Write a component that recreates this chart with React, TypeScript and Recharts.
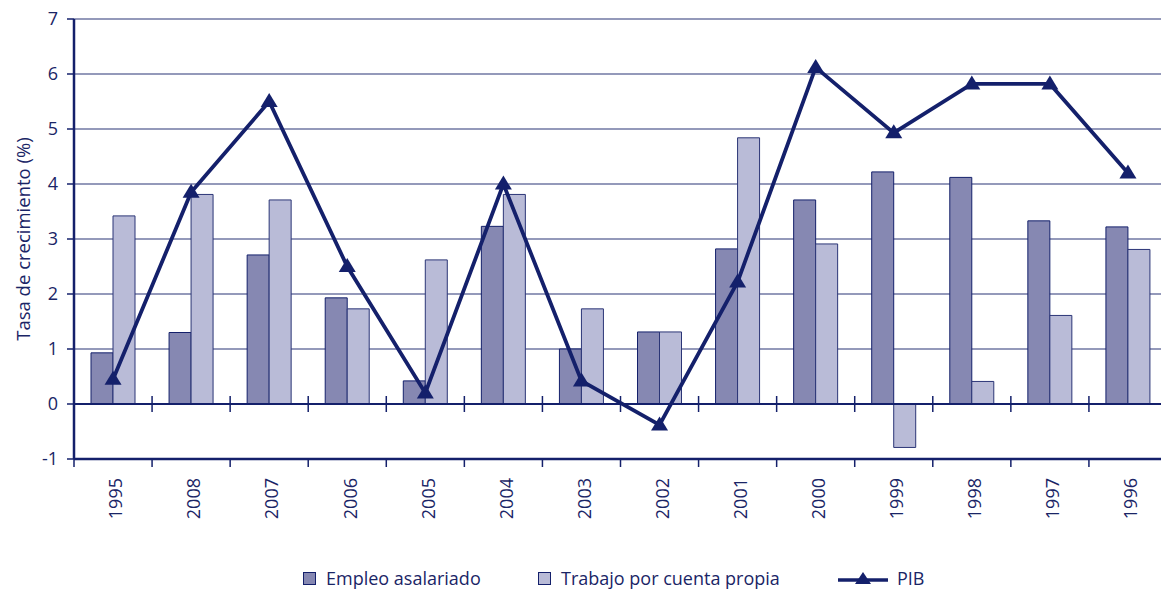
import React from "react";
import {
  ComposedChart,
  Bar,
  Line,
  XAxis,
  YAxis,
  CartesianGrid,
  ReferenceLine,
  Legend,
} from "recharts";

const years = ["1995", "2008", "2007", "2006", "2005", "2004", "2003", "2002", "2001", "2000", "1999", "1998", "1997", "1996"];
const empleoAsalariado = [0.93, 1.3, 2.71, 1.93, 0.42, 3.23, 1.0, 1.31, 2.82, 3.71, 4.22, 4.12, 3.33, 3.22];
const cuentaPropia = [3.42, 3.81, 3.71, 1.73, 2.62, 3.81, 1.73, 1.31, 4.84, 2.91, -0.79, 0.41, 1.61, 2.81];
const pib = [0.45, 3.85, 5.5, 2.5, 0.2, 4.0, 0.42, -0.38, 2.22, 6.12, 4.93, 5.82, 5.82, 4.2];
const yTicks = [-1, 0, 1, 2, 3, 4, 5, 6, 7];

const data = years.map((year, i) => ({
  year,
  empleo: empleoAsalariado[i],
  propia: cuentaPropia[i],
  pib: pib[i],
}));

const NAVY = "#14206b";
const TEXT = "#1a2566";
const DARK = "#8688b2";
const LIGHT = "#b9bbd7";
const FONT = "'Open Sans', sans-serif";

// zero line with tick marks at category boundaries, crossing the line
const ZeroLine = (props: any) => {
  const { x1, x2, y1 } = props;
  const step = (x2 - x1) / years.length;
  return (
    <g>
      <line x1={x1} x2={x2} y1={y1} y2={y1} stroke={NAVY} strokeWidth={2} />
      {years.slice(1).map((_, k) => (
        <line key={k} x1={x1 + (k + 1) * step} x2={x1 + (k + 1) * step} y1={y1 - 8} y2={y1 + 8} stroke={NAVY} strokeWidth={1.5} />
      ))}
    </g>
  );
};

// bottom frame line with ticks below
const BottomLine = (props: any) => {
  const { x1, x2, y1 } = props;
  const step = (x2 - x1) / years.length;
  return (
    <g>
      <line x1={x1} x2={x2} y1={y1} y2={y1} stroke={NAVY} strokeWidth={2.5} />
      {years.map((_, k) => (
        <line key={k} x1={x1 + k * step} x2={x1 + k * step} y1={y1} y2={y1 + 8} stroke={NAVY} strokeWidth={1.5} />
      ))}
    </g>
  );
};

const YearTick = (props: any) => {
  const { x, y, payload } = props;
  const tx = x + 3;
  const ty = y + 11;
  return (
    <text
      x={tx}
      y={ty}
      transform={`rotate(-90, ${tx}, ${ty})`}
      textAnchor="end"
      dy="0.35em"
      fill={TEXT}
      fontSize={18}
      fontFamily={FONT}
    >
      {payload.value}
    </text>
  );
};

const Triangle = (props: any) => {
  const { cx, cy, index } = props;
  if (cx == null || cy == null) return <g key={index} />;
  return (
    <polygon
      key={index}
      points={`${cx},${cy - 8.5} ${cx - 8.5},${cy + 5.5} ${cx + 8.5},${cy + 5.5}`}
      fill={NAVY}
    />
  );
};

const LegendContent = () => (
  <div
    style={{
      position: "relative",
      height: 26,
      fontFamily: FONT,
      fontSize: 18,
      color: TEXT,
    }}
  >
    <span style={{ position: "absolute", left: 303, top: 0, display: "flex", alignItems: "center", height: 26, whiteSpace: "nowrap" }}>
      <span style={{ width: 11, height: 11, background: DARK, border: `1px solid ${NAVY}`, marginRight: 10 }} />
      Empleo asalariado
    </span>
    <span style={{ position: "absolute", left: 538, top: 0, display: "flex", alignItems: "center", height: 26, whiteSpace: "nowrap" }}>
      <span style={{ width: 11, height: 11, background: LIGHT, border: `1px solid ${NAVY}`, marginRight: 10 }} />
      Trabajo por cuenta propia
    </span>
    <span style={{ position: "absolute", left: 838, top: 0, display: "flex", alignItems: "center", height: 26, whiteSpace: "nowrap" }}>
      <svg width={50} height={16} style={{ marginRight: 9 }}>
        <line x1={0} x2={50} y1={10} y2={10} stroke={NAVY} strokeWidth={3.5} />
        <polygon points="25,2 17,14 33,14" fill={NAVY} />
      </svg>
      PIB
    </span>
  </div>
);

export default function App() {
  return (
    <div style={{ position: "absolute", left: 0, top: 0, background: "#fff", overflow: "hidden", width: 1161, height: 589 }}>
      <ComposedChart
        width={1161}
        height={589}
        data={data}
        margin={{ top: 19, right: -6, left: 0, bottom: 60 }}
        barGap={0}
      >
        <CartesianGrid vertical={false} stroke="#2b3576" strokeWidth={1.2} />
        <XAxis
          dataKey="year"
          axisLine={false}
          tickLine={false}
          interval={0}
          height={70}
          tick={<YearTick />}
        />
        <YAxis
          domain={[-1, 7]}
          ticks={yTicks}
          interval={0}
          width={74}
          axisLine={{ stroke: NAVY, strokeWidth: 2.5 }}
          tickLine={{ stroke: NAVY, strokeWidth: 1.5 }}
          tickSize={7}
          tickMargin={9}
          tick={{ fill: TEXT, fontSize: 18, fontFamily: FONT }}
          label={{
            content: (p: any) => {
              const vb = p.viewBox || {};
              const cy = vb.y + vb.height / 2;
              return (
                <text
                  x={22}
                  y={cy}
                  transform={`rotate(-90, 22, ${cy})`}
                  textAnchor="middle"
                  dominantBaseline="central"
                  fill={TEXT}
                  fontSize={18.5}
                  fontFamily={FONT}
                >
                  Tasa de crecimiento (%)
                </text>
              );
            },
          }}
        />
        <Legend
          verticalAlign="middle"
          align="center"
          layout="horizontal"
          wrapperStyle={{ top: 565, left: 0, width: 1161 }}
          content={<LegendContent />}
        />
        <Bar dataKey="empleo" name="Empleo asalariado" fill={DARK} stroke={NAVY} strokeWidth={1} barSize={22} isAnimationActive={false} />
        <Bar dataKey="propia" name="Trabajo por cuenta propia" fill={LIGHT} stroke="#2b3576" strokeWidth={1} barSize={22} isAnimationActive={false} />
        <ReferenceLine y={0} shape={<ZeroLine />} />
        <ReferenceLine y={-1} shape={<BottomLine />} />
        <Line
          type="linear"
          dataKey="pib"
          name="PIB"
          stroke={NAVY}
          strokeWidth={3.8}
          dot={(p: any) => <Triangle key={p.index} {...p} />}
          activeDot={false}
          isAnimationActive={false}
        />
      </ComposedChart>
    </div>
  );
}
